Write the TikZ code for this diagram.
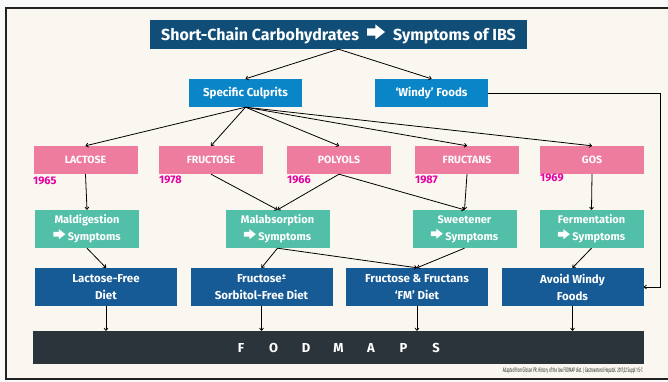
\documentclass[tikz,border=0pt]{standalone}
\usepackage{fontspec}
\setmainfont{Fira Sans}
\usetikzlibrary{arrows.meta}
\definecolor{bgc}{HTML}{FAF7F0}
\definecolor{titlec}{HTML}{104E78}
\definecolor{culpc}{HTML}{0A86C8}
\definecolor{pinkc}{HTML}{EE7C9E}
\definecolor{greenc}{HTML}{52BFA8}
\definecolor{dietc}{HTML}{165A96}
\definecolor{fodc}{HTML}{2B343B}
\definecolor{yearc}{HTML}{E600A0}
\definecolor{framec}{HTML}{222222}
\newcommand{\rar}[1]{\tikz[x=#1,y=#1,baseline={(0,1.5)}]\fill[white] (0,2.6) -- (5.6,2.6) -- (5.6,0) -- (12,5) -- (5.6,10) -- (5.6,7.4) -- (0,7.4) -- cycle;}
\newcommand{\fl}[1]{\makebox[32.5pt]{#1}}
\begin{document}
\begin{tikzpicture}[x=1pt,y=-1pt,
  box/.style={draw=none,inner sep=0pt,align=center,text=white,font=\bfseries\fontsize{11.5}{14}\selectfont},
  culp/.style={box,fill=culpc,minimum width=113pt,minimum height=28pt},
  pinkbox/.style={box,fill=pinkc,minimum width=104pt,minimum height=28pt,font=\bfseries\fontsize{10.5}{12}\selectfont},
  greenbox/.style={box,fill=greenc,minimum width=104pt,minimum height=38pt,font=\bfseries\fontsize{11}{17}\selectfont},
  dietbox/.style={box,fill=dietc,minimum width=142pt,minimum height=38pt,font=\bfseries\fontsize{11.5}{17}\selectfont},
  year/.style={anchor=west,inner sep=0pt,text=yearc,font=\bfseries\fontsize{11}{12}\selectfont},
  conn/.style={draw=black,line width=0.8pt,-{To[length=3pt,width=4.5pt]}}]
\useasboundingbox (0,0) rectangle (668,382);
\fill[white!95!gray] (0,0) rectangle (668,382);
\fill[bgc] (6,8) rectangle (668,379);
\draw[framec,line width=2pt] (668,8) -- (6,8) -- (6,379) -- (668,379);

\node[box,fill=titlec,minimum width=377pt,minimum height=29pt,font=\bfseries\fontsize{16}{18}\selectfont] (title) at (338.5,34.5) {Short-Chain Carbohydrates\hspace{8pt}\rar{1.5pt}\hspace{8pt}Symptoms of IBS};

\node[culp] (sc) at (245.5,93) {Specific Culprits};
\node[culp] (wf) at (431.5,93) {‘Windy’ Foods};

\node[pinkbox] (lac) at (85.5,160) {LACTOSE};
\node[pinkbox] (fru) at (211,160) {FRUCTOSE};
\node[pinkbox] (pol) at (339,160) {POLYOLS};
\node[pinkbox] (frn) at (467,160) {FRUCTANS};
\node[pinkbox] (gos) at (592,160) {GOS};

\node[year] (y1) at (33,181) {1965};
\node[year] (y2) at (159,180) {1978};
\node[year] (y3) at (287,180) {1966};
\node[year] (y4) at (415,180) {1987};
\node[year] (y5) at (540,178) {1969};

\node[greenbox] (mald) at (87,229) {Maldigestion\\\rar{1pt}\ Symptoms};
\node[greenbox] (mala) at (277.5,229) {Malabsorption\\\rar{1pt}\ Symptoms};
\node[greenbox] (swe) at (464.5,229) {Sweetener\\\rar{1pt}\ Symptoms};
\node[greenbox] (fer) at (591.5,229) {Fermentation\\\rar{1pt}\ Symptoms};

\node[dietbox] (lfd) at (106,287) {Lactose-Free\\Diet};
\node[dietbox] (fsd) at (261.5,287) {Fructose\raisebox{0.5ex}{\fontsize{8}{8}\selectfont ±}\\Sorbitol-Free Diet};
\node[dietbox] (fmd) at (417,287) {Fructose \& Fructans\\‘FM’ Diet};
\node[dietbox] (awf) at (572.5,287) {Avoid Windy\\Foods};

\node[box,fill=fodc,minimum width=611pt,minimum height=33pt,font=\bfseries\fontsize{13}{14}\selectfont] (fod) at (338.5,347.5) {\fl{F}\fl{O}\fl{D}\fl{M}\fl{A}\fl{P}\fl{S}};

\node[anchor=east,inner sep=0pt,xscale=0.47,font=\fontsize{6.5}{7}\selectfont,text=black!85] (cite) at (643,371) {Adapted from Gibson PR. History of the low FODMAP diet. J Gastroenterol Hepatol. 2017;32 Suppl 1:5-7.};

\coordinate (wr) at (660,93);

\draw[conn] (title.south) -- (sc.north);
\draw[conn] (title.south) -- (wf.north);
\foreach \t in {lac,fru,pol,frn,gos} \draw[conn] (sc.south) -- (\t.north);
\draw[conn] (lac.south) -- (mald.north);
\draw[conn] (fru.south) -- (mala.north);
\draw[conn] (pol.south) -- (mala.north);
\draw[conn] (pol.south) -- (swe.north);
\draw[conn] (frn.south) -- (swe.north);
\draw[conn] (gos.south) -- (fer.north);
\draw[conn] (mald.south) -- (lfd.north);
\draw[conn] (mala.south) -- (fsd.north);
\draw[conn] (mala.south) -- (fmd.north);
\draw[conn] (swe.south) -- (fmd.north);
\draw[conn] (fer.south) -- (awf.north);
\draw[conn] (wf.east) -- (wr) |- (awf.east);
\foreach \t in {lfd,fsd,fmd,awf} \draw[conn] (\t.south) -- (\t.south |- fod.north);
\end{tikzpicture}
\end{document}
